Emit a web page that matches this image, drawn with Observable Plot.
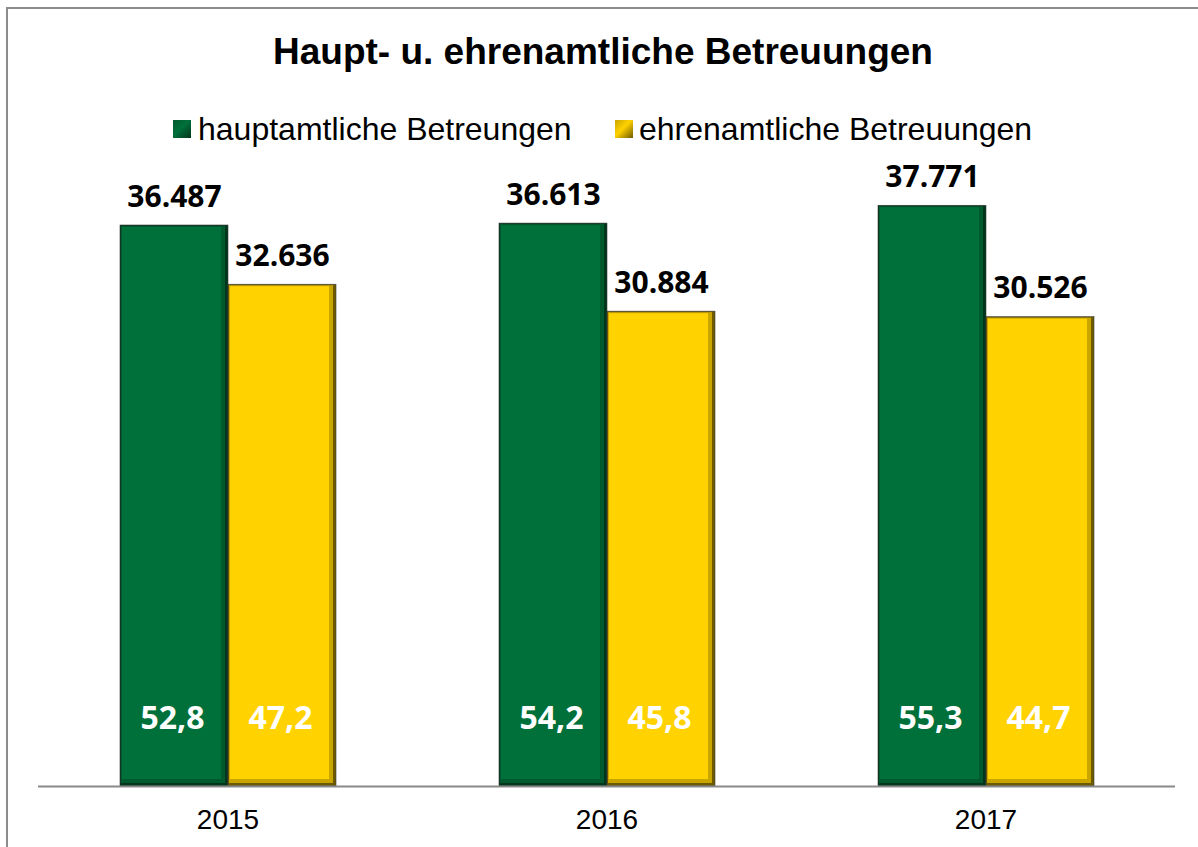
<!DOCTYPE html>
<html>
<head>
<meta charset="utf-8">
<script src="https://cdn.jsdelivr.net/npm/d3@7"></script>
<script src="https://cdn.jsdelivr.net/npm/@observablehq/plot@0.6"></script>
<style>
  html, body { margin: 0; padding: 0; background: #fff; overflow: hidden; }
  #wrap { position: relative; width: 1198px; height: 847px; overflow: hidden; background: #fff; }
  #frame { position: absolute; left: 6px; top: 7px; width: 1400px; height: 1200px; border: 2px solid #8c8c8c; box-sizing: border-box; }
  #title { position: absolute; left: 4px; top: 33px; width: 1198px; text-align: center; font-family: "Liberation Sans", Arial, sans-serif; font-weight: bold; font-size: 37px; line-height: 1; color: #000; }
  .leg { position: absolute; top: 113px; font-family: "Liberation Sans", Arial, sans-serif; font-size: 32px; line-height: 1; color: #000; white-space: nowrap; }
  .sw { position: absolute; width: 18px; height: 18px; box-sizing: border-box; }
  #chart { position: absolute; left: 0; top: 0; }
</style>
</head>
<body>
<div id="wrap">
  <div id="frame"></div>
  <div id="chart"></div>
  <div id="title"></div>
  <div id="legend"></div>
</div>
<script>
const years = ["2015", "2016", "2017"];
const seriesNames = ["hauptamtliche Betreungen", "ehrenamtliche Betreuungen"];
const hauptValues = [36487, 36613, 37771];
const ehrenValues = [32636, 30884, 30526];
const hauptPct = [52.8, 54.2, 55.3];
const ehrenPct = [47.2, 45.8, 44.7];
const seriesColors = ["#00703a", "#ffd200"];
const seriesMid = ["#015a2e", "#c9a500"];
const seriesEdge = ["#00361b", "#6e5a00"];
const titleText = "Haupt- u. ehrenamtliche Betreuungen";

const rows = [];
years.forEach((yr, i) => {
  rows.push({year: yr, series: seriesNames[0], value: hauptValues[i], pct: hauptPct[i]});
  rows.push({year: yr, series: seriesNames[1], value: ehrenValues[i], pct: ehrenPct[i]});
});

const fmtThousands = v => d3.format(",")(v).replace(/,/g, ".");
const fmtPct = v => d3.format(".1f")(v).replace(".", ",");

const common = {fx: "year", x: "series", y: "value"};

const chart = Plot.plot({
  width: 1198,
  height: 847,
  marginTop: 171,
  marginBottom: 61,
  marginLeft: 37,
  marginRight: 23,
  style: {background: "transparent"},
  fx: {domain: years, padding: 0, label: null},
  x: {domain: seriesNames, paddingInner: 0, paddingOuter: 0.746, axis: null},
  y: {domain: [0, 40000], axis: null},
  color: {domain: seriesNames, range: seriesColors},
  marks: [
    Plot.axisFx({anchor: "bottom", tickSize: 0, tickPadding: 23, fontSize: 28, fontFamily: "Liberation Sans, Arial, sans-serif", fill: "#000", label: null}),
    Plot.barY(rows, {...common, fill: d => seriesEdge[seriesNames.indexOf(d.series)], stroke: "#3a3a3a", strokeWidth: 0.6}),
    Plot.barY(rows, {...common, fill: d => seriesMid[seriesNames.indexOf(d.series)], insetRight: 3, insetBottom: 3, insetLeft: 1, insetTop: 1}),
    Plot.barY(rows, {...common, fill: "series", insetRight: 7, insetBottom: 7, insetLeft: 2, insetTop: 2}),
    Plot.ruleY([0], {stroke: "#898989", strokeWidth: 2}),
    Plot.text(rows, {...common, text: d => fmtThousands(d.value), lineAnchor: "bottom", dy: -19, fontSize: 30, fontWeight: "bold", fontFamily: "Open Sans, sans-serif", fill: "#000"}),
    Plot.text(rows, {fx: "year", x: "series", text: d => fmtPct(d.pct), frameAnchor: "bottom", lineAnchor: "middle", dx: -2, dy: -68, fontSize: 32, fontWeight: "bold", fontFamily: "Open Sans, sans-serif", fill: "#fff"})
  ]
});
document.getElementById("chart").appendChild(chart);

document.getElementById("title").textContent = titleText;

const legendPos = [{sw: 173, tx: 198}, {sw: 615, tx: 639}];
const legend = document.getElementById("legend");
seriesNames.forEach((name, i) => {
  const sw = document.createElement("div");
  sw.className = "sw";
  sw.style.left = legendPos[i].sw + "px";
  sw.style.top = "120px";
  sw.style.background = `linear-gradient(135deg, ${seriesMid[i]} 0%, ${seriesColors[i]} 45%, ${seriesEdge[i]} 100%)`;
  legend.appendChild(sw);
  const t = document.createElement("div");
  t.className = "leg";
  t.style.left = legendPos[i].tx + "px";
  t.textContent = name;
  legend.appendChild(t);
});
</script>
</body>
</html>
